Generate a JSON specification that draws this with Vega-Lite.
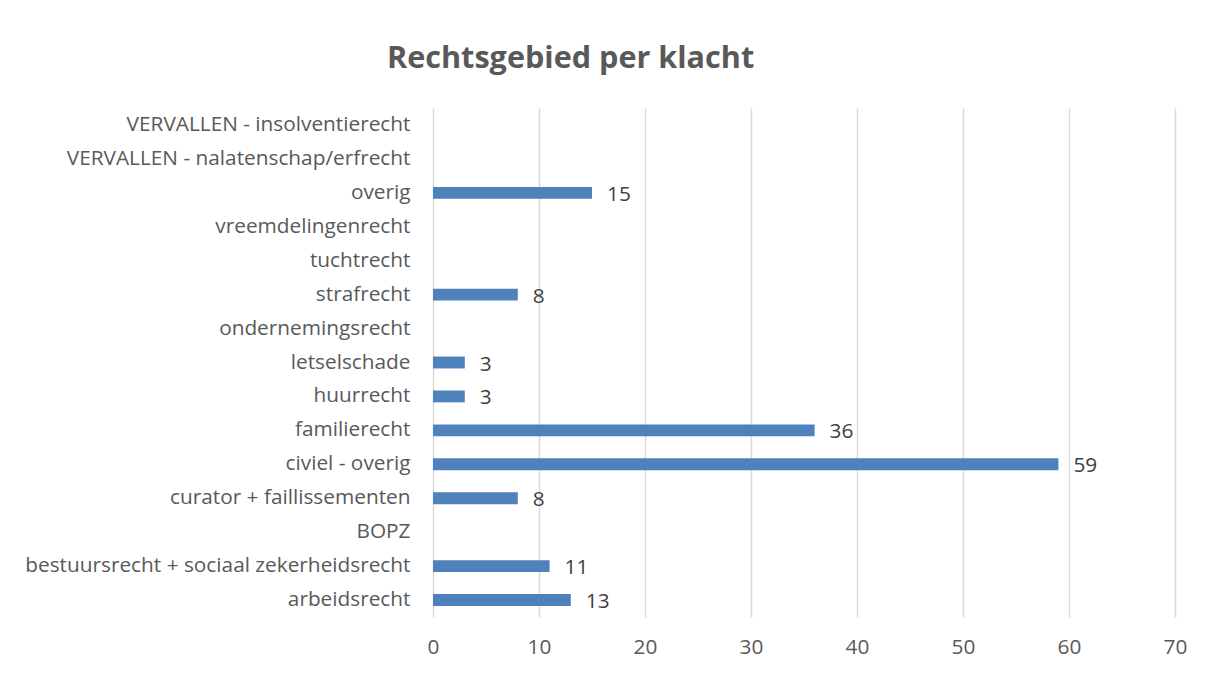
{
  "$schema": "https://vega.github.io/schema/vega-lite/v6.json",
  "width": 742,
  "height": 509,
  "autosize": {"type": "none"},
  "padding": {"left": 433, "top": 108, "right": 31, "bottom": 56},
  "background": "white",
  "config": {
    "font": "Open Sans",
    "view": {"stroke": null}
  },
  "title": {
    "text": "Rechtsgebied per klacht",
    "anchor": "start",
    "frame": "group",
    "dx": -46,
    "offset": 9,
    "baseline": "alphabetic",
    "fontSize": 30.6,
    "fontWeight": "bold",
    "color": "#595959",
    "font": "Open Sans"
  },
  "data": {
    "values": [
      {"cat": "arbeidsrecht", "n": 13},
      {"cat": "bestuursrecht + sociaal zekerheidsrecht", "n": 11},
      {"cat": "BOPZ", "n": 0},
      {"cat": "curator + faillissementen", "n": 8},
      {"cat": "civiel - overig", "n": 59},
      {"cat": "familierecht", "n": 36},
      {"cat": "huurrecht", "n": 3},
      {"cat": "letselschade", "n": 3},
      {"cat": "ondernemingsrecht", "n": 0},
      {"cat": "strafrecht", "n": 8},
      {"cat": "tuchtrecht", "n": 0},
      {"cat": "vreemdelingenrecht", "n": 0},
      {"cat": "overig", "n": 15},
      {"cat": "VERVALLEN - nalatenschap/erfrecht", "n": 0},
      {"cat": "VERVALLEN - insolventierecht", "n": 0}
    ]
  },
  "encoding": {
    "y": {
      "field": "cat",
      "type": "nominal",
      "sort": ["VERVALLEN - insolventierecht", "VERVALLEN - nalatenschap/erfrecht", "overig", "vreemdelingenrecht", "tuchtrecht", "strafrecht", "ondernemingsrecht", "letselschade", "huurrecht", "familierecht", "civiel - overig", "curator + faillissementen", "BOPZ", "bestuursrecht + sociaal zekerheidsrecht", "arbeidsrecht"],
      "scale": {"paddingInner": 0.65, "paddingOuter": 0.325},
      "axis": {
        "title": null,
        "domain": false,
        "ticks": false,
        "tickSize": 0,
        "labelPadding": 23,
        "labelFontSize": 20.8,
        "labelColor": "#595959",
        "labelFont": "Open Sans",
        "labelLimit": 500
      }
    },
    "x": {
      "field": "n",
      "type": "quantitative",
      "scale": {"domain": [0, 70], "nice": false},
      "axis": {
        "title": null,
        "values": [0, 10, 20, 30, 40, 50, 60, 70],
        "domain": false,
        "ticks": false,
        "tickSize": 0,
        "labelFlush": false,
        "labelPadding": 20,
        "labelFontSize": 20.8,
        "labelColor": "#595959",
        "labelFont": "Open Sans",
        "gridColor": "#d9d9d9",
        "gridWidth": 1.5
      }
    }
  },
  "layer": [
    {
      "mark": {"type": "bar", "color": "#4f81bd", "strokeWidth": 0}
    },
    {
      "transform": [{"filter": "datum.n > 0"}],
      "mark": {"type": "text", "align": "left", "dx": 15, "dy": 2, "fontSize": 20.8, "color": "#404040", "font": "Open Sans"},
      "encoding": {"text": {"field": "n", "type": "quantitative"}}
    }
  ]
}
